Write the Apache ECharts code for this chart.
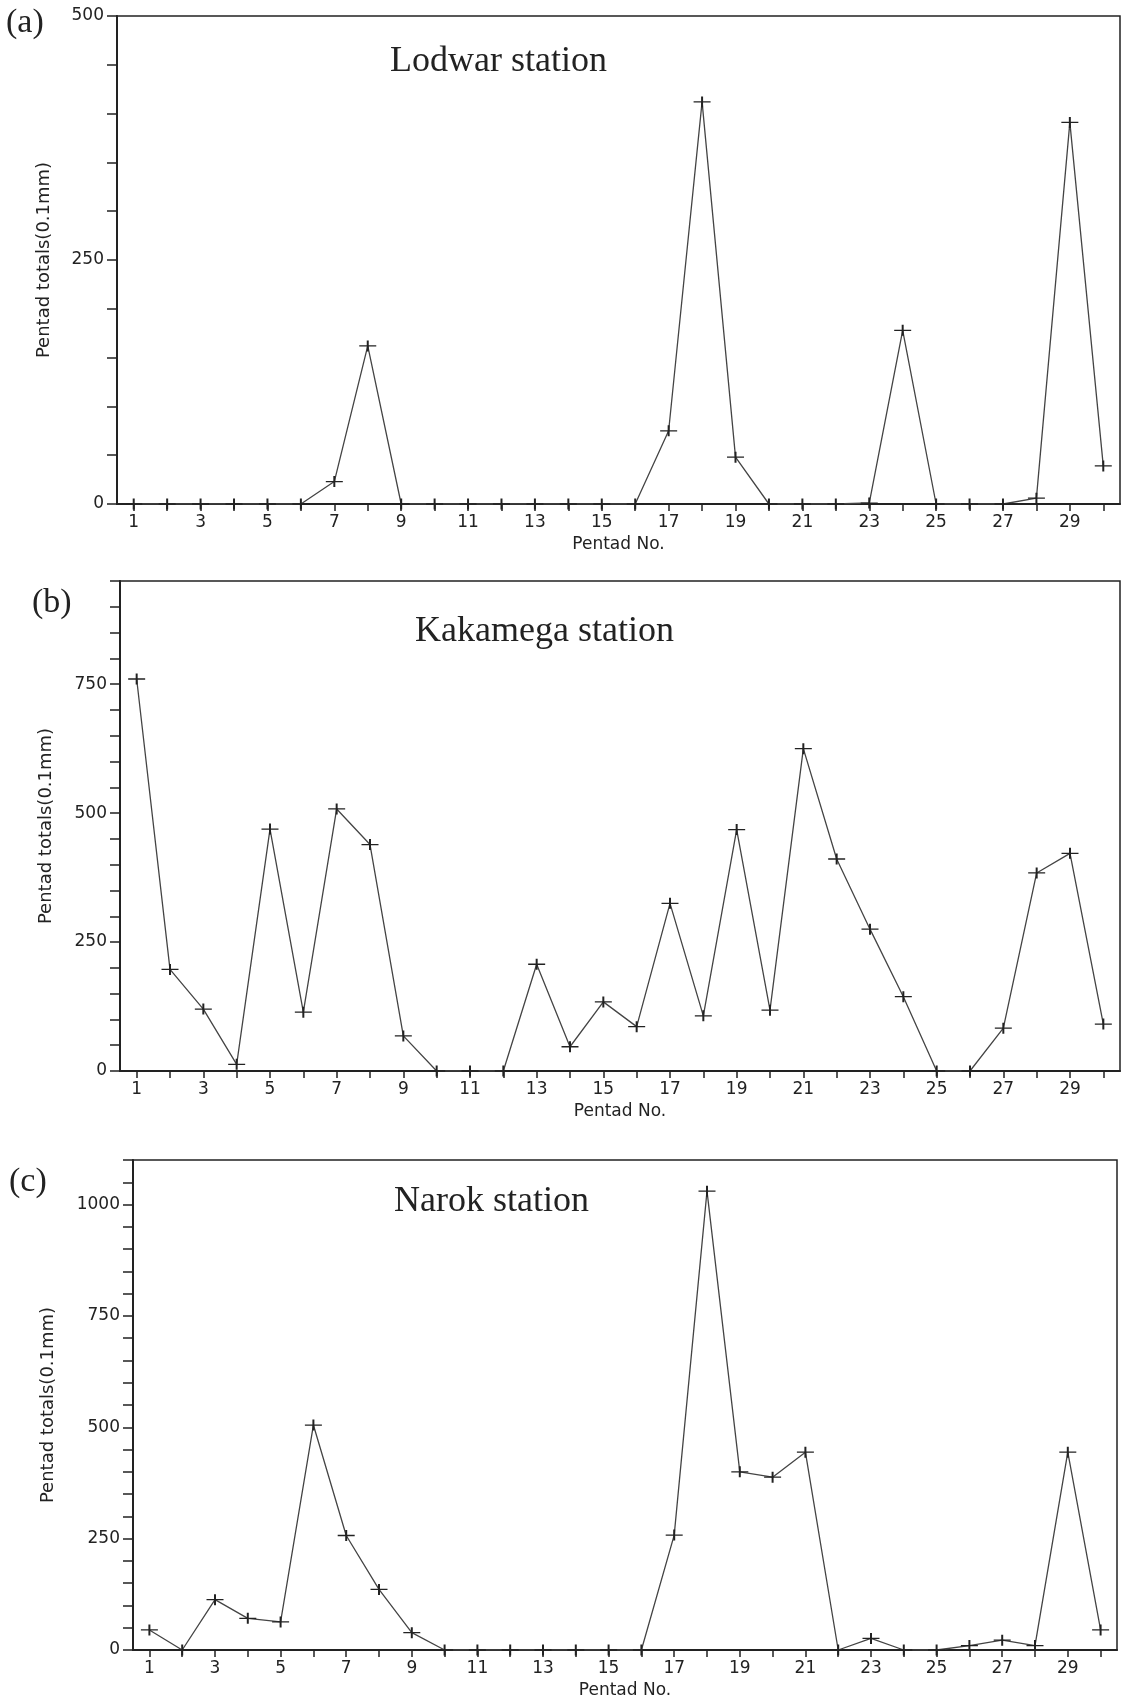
<!DOCTYPE html>
<html>
<head>
<meta charset="utf-8">
<script src="https://cdn.jsdelivr.net/npm/echarts@6/dist/echarts.min.js"></script>
<style>
html,body{margin:0;padding:0;background:#fff;}
#chart{width:1127px;height:1707px;}
</style>
</head>
<body>
<div id="chart"></div>
<script>
const pentads = ['1','2','3','4','5','6','7','8','9','10','11','12','13','14','15','16','17','18','19','20','21','22','23','24','25','26','27','28','29','30'];
const lodwar = [0,0,0,0,0,0,23,162,0,0,0,0,0,0,0,0,75,412,48,0,0,0,1,178,0,0,0,6,391,39];
const kakamega = [760,197,120,13,469,114,508,439,68,0,0,0,207,47,134,86,325,107,468,118,625,411,275,144,0,0,83,384,422,91];
const narok = [45,0,113,71,63,505,257,136,39,0,0,0,0,0,0,0,258,1030,400,388,444,0,26,0,0,10,22,10,444,45];
const yMax = [500, 950, 1100];
const stationNames = ['Lodwar station', 'Kakamega station', 'Narok station'];
const panelLetters = ['(a)', '(b)', '(c)'];
const xName = 'Pentad No.';
const yName = 'Pentad totals(0.1mm)';

const grids = [
  {left:117, top:16, width:1003, height:488},
  {left:120, top:581, width:1000, height:490},
  {left:133, top:1160, width:984, height:490}
];
const yNameGaps = [64, 65, 76];
const seriesData = [lodwar, kakamega, narok];
const sans = 'DejaVu Sans';
const ink = '#222';

const option = {
  backgroundColor:'#fff',
  animation:false,
  grid: grids.map(g => Object.assign({show:true, borderColor:ink, borderWidth:1.5, backgroundColor:'transparent'}, g)),
  xAxis: grids.map((g,i) => ({
    type:'category', gridIndex:i, data:pentads, boundaryGap:true,
    name:xName, nameLocation:'middle', nameGap:32,
    nameTextStyle:{fontFamily:sans, fontSize:17, color:ink},
    axisLine:{show:true, lineStyle:{color:ink, width:2}},
    axisTick:{show:true, alignWithLabel:true, interval:0, length:7, lineStyle:{color:ink, width:1.5}},
    axisLabel:{interval:1, margin:10, fontFamily:sans, fontSize:17, color:ink},
    splitLine:{show:false}
  })),
  yAxis: grids.map((g,i) => ({
    type:'value', gridIndex:i, min:0, max:yMax[i], interval:50,
    name:yName, nameLocation:'middle', nameGap:yNameGaps[i],
    nameTextStyle:{fontFamily:sans, fontSize:18, color:ink},
    axisLine:{show:true, lineStyle:{color:ink, width:2}},
    axisTick:{show:true, length:10, lineStyle:{color:ink, width:1.5}},
    axisLabel:{margin:13, fontFamily:sans, fontSize:17, color:ink,
      formatter: v => (v % 250 === 0 ? String(v) : '')},
    splitLine:{show:false}
  })),
  series: seriesData.map((d,i) => ({
    type:'line', xAxisIndex:i, yAxisIndex:i, data:d,
    symbol:'path://M0,5L10,5M5,0L5,10', symbolSize:[17,11],
    showAllSymbol:true,
    itemStyle:{color:'transparent', borderColor:ink, borderWidth:1.6},
    lineStyle:{color:'#444', width:1.3},
    z:3
  })),
  graphic: [
    {type:'text', left:6, top:6, style:{text:panelLetters[0], font:'34px "Liberation Serif"', fill:ink}},
    {type:'text', left:32, top:586, style:{text:panelLetters[1], font:'34px "Liberation Serif"', fill:ink}},
    {type:'text', left:9, top:1165, style:{text:panelLetters[2], font:'34px "Liberation Serif"', fill:ink}},
    {type:'text', left:390, top:44, style:{text:stationNames[0], font:'36px "Liberation Serif"', fill:ink}},
    {type:'text', left:415, top:614, style:{text:stationNames[1], font:'36px "Liberation Serif"', fill:ink}},
    {type:'text', left:394, top:1184, style:{text:stationNames[2], font:'36px "Liberation Serif"', fill:ink}}
  ]
};
const chart = echarts.init(document.getElementById('chart'), null, {renderer:'canvas'});
chart.setOption(option);
</script>
</body>
</html>
